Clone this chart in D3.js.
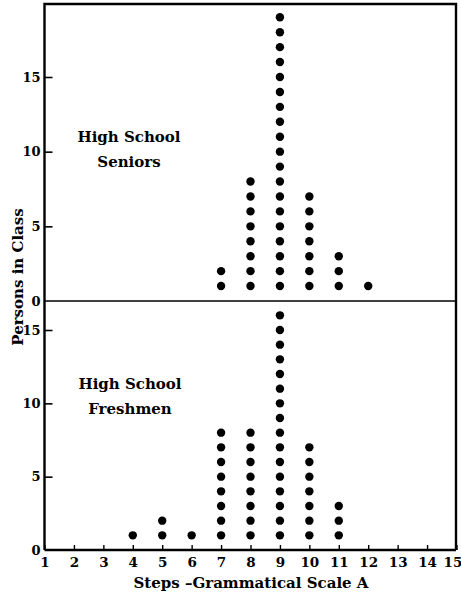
<!DOCTYPE html>
<html>
<head>
<meta charset="utf-8">
<script src="https://cdn.jsdelivr.net/npm/d3@7"></script>
<style>
  html, body { margin: 0; padding: 0; background: #fff; }
  svg { display: block; }
  text { font-family: "DejaVu Serif", "Liberation Serif", serif; font-weight: bold; fill: #000; }
</style>
</head>
<body>
<svg id="chart" width="461" height="592"></svg>
<script>
// ---- data ----
const stepTicks = [1,2,3,4,5,6,7,8,9,10,11,12,13,14,15];
const yTicks = [0, 5, 10, 15];
const seniorSteps = [7, 8, 9, 10, 11, 12];
const seniorCounts = [2, 8, 19, 7, 3, 1];
const freshmenSteps = [4, 5, 6, 7, 8, 9, 10, 11];
const freshmenCounts = [1, 2, 1, 8, 8, 16, 7, 3];
const panelTitles = [["High School", "Seniors"], ["High School", "Freshmen"]];
const xTitle = "Steps \u2013Grammatical Scale A";
const yTitle = "Persons in Class";

const svg = d3.select("#chart");
const pLeft = 44.5, pRight = 456, pTop = 4, pMid = 301, pBottom = 550;

const x = d3.scaleLinear().domain([1, 15]).range([pLeft, 456.5]);
const yTop = d3.scaleLinear().domain([0, 15]).range([pMid, 77]);
const yBot = d3.scaleLinear().domain([0, 15]).range([pBottom, 330]);

// frame
svg.append("path")
  .attr("d", `M${pLeft},${pBottom} L${pLeft},${pTop} L${pRight},${pTop} L${pRight},${pBottom}`)
  .attr("fill", "none").attr("stroke", "#000").attr("stroke-width", 2.4);
svg.append("line").attr("x1", pLeft).attr("x2", pRight).attr("y1", pMid).attr("y2", pMid)
  .attr("stroke", "#000").attr("stroke-width", 1.6);

function yAxis(scale) {
  const g = svg.append("g").attr("transform", `translate(${pLeft},0)`)
    .call(d3.axisLeft(scale).tickValues(yTicks).tickSizeInner(-8).tickSizeOuter(0).tickPadding(4));
  g.select(".domain").remove();
  g.selectAll("line").attr("stroke-width", 1.6);
  g.selectAll("text").attr("font-size", 13).style("font-family", '"DejaVu Serif", serif').style("font-weight", "bold");
  g.selectAll(".tick").filter(d => d === 0).select("line").remove();
}
yAxis(yTop);
yAxis(yBot);

// x axis
const gx = svg.append("g").attr("transform", `translate(0,${pBottom})`)
  .call(d3.axisBottom(x).tickValues(stepTicks).tickSizeInner(-5).tickSizeOuter(0).tickPadding(7));
gx.select(".domain").attr("stroke-width", 2.4).attr("d", `M${pLeft},0H${pRight}`);
gx.selectAll("line").attr("stroke-width", 1.4);
gx.selectAll("text").attr("font-size", 13.5).style("font-family", '"DejaVu Serif", serif').style("font-weight", "bold");
gx.selectAll(".tick").filter(d => d === 15).select("text").attr("dx", -4);

// dots
function dots(steps, counts, scale) {
  const pts = [];
  steps.forEach((s, i) => { for (let k = 1; k <= counts[i]; k++) pts.push({ s, k }); });
  svg.append("g").selectAll("circle").data(pts).join("circle")
    .attr("cx", d => x(d.s)).attr("cy", d => scale(d.k)).attr("r", 4.2).attr("fill", "#000");
}
dots(seniorSteps, seniorCounts, yTop);
dots(freshmenSteps, freshmenCounts, yBot);

// panel titles
function title(lines, cx, y0) {
  lines.forEach((t, i) => {
    svg.append("text").attr("x", cx).attr("y", y0 + i * 25).attr("text-anchor", "middle")
      .attr("font-size", 15).text(t);
  });
}
title(panelTitles[0], 129, 142);
title(panelTitles[1], 130, 389);

// axis titles
svg.append("text").attr("x", 251).attr("y", 588).attr("text-anchor", "middle")
  .attr("font-size", 15).text(xTitle);
svg.append("text").attr("transform", "translate(23,277) rotate(-90)").attr("text-anchor", "middle")
  .attr("font-size", 15).text(yTitle);
</script>
</body>
</html>
